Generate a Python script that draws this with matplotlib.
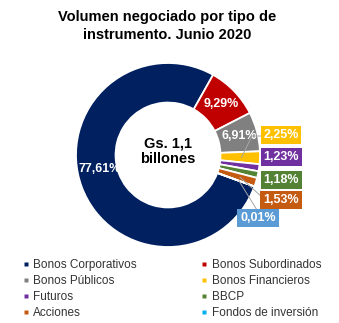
import numpy as np
import matplotlib
matplotlib.use("Agg")
import matplotlib.pyplot as plt
from matplotlib.lines import Line2D

plt.rcParams['font.family'] = ['Liberation Sans', 'DejaVu Sans']

categories = ["Bonos Corporativos", "Bonos Subordinados", "Bonos Públicos",
              "Bonos Financieros", "Futuros", "BBCP", "Acciones", "Fondos de inversión"]
values = [77.61, 9.29, 6.91, 2.25, 1.23, 1.18, 1.53, 0.01]
value_labels = ["77,61%", "9,29%", "6,91%", "2,25%", "1,23%", "1,18%", "1,53%", "0,01%"]
colors = ["#002060", "#C00000", "#808080", "#FFC000", "#7030A0", "#548235", "#C55A11", "#00B0F0"]
box_colors = ["#002060", "#C00000", "#808080", "#FFC000", "#7030A0", "#548235", "#C55A11", "#5B9BD5"]
title = "Volumen negociado por tipo de\ninstrumento. Junio 2020"
center_text = "Gs. 1,1\nbillones"

W, H = 339, 323
fig = plt.figure(figsize=(W / 100, H / 100), dpi=100)
cx, cy, R = 168, 155, 92
ax = fig.add_axes([(cx - R) / W, (H - cy - R) / H, 2 * R / W, 2 * R / H])

inner = 0.57
wedges, _ = ax.pie(values, colors=colors, startangle=-20, counterclock=False, radius=1,
                   wedgeprops=dict(width=1 - inner, edgecolor='white', linewidth=1.3))
ax.set_xlim(-1, 1)
ax.set_ylim(-1, 1)
ax.set_aspect('equal')
ax.axis('off')

def mid(w):
    return np.deg2rad((w.theta1 + w.theta2) / 2)

def px(x, y):
    return ((x - cx) / R, (cy - y) / R)

# inside labels
rmid = 0.80
for i in (1, 2):
    a = mid(wedges[i])
    ax.text(rmid * np.cos(a), rmid * np.sin(a), value_labels[i], color='white',
            fontsize=9, fontweight='bold', ha='center', va='center')
bx, by = px(100, 169)
ax.text(bx, by, value_labels[0], color='white', fontsize=9, fontweight='bold',
        ha='center', va='center')

# callout labels
callouts = {3: (281, 135), 4: (281, 157), 5: (281, 180), 6: (281, 200), 7: (258, 218)}
for i, (x, y) in callouts.items():
    tx, ty = px(x, y)
    ax.text(tx, ty, value_labels[i], color='white', fontsize=9, fontweight='bold',
            ha='center', va='center', zorder=5, clip_on=False,
            bbox=dict(boxstyle='square,pad=0.22', facecolor=box_colors[i], edgecolor='none'))

# leader lines
lc = '#A6A6A6'
a = mid(wedges[3])
p0 = (0.80 * np.cos(a), 0.80 * np.sin(a))
p1 = px(252, 136)
p2 = px(262, 136)
ax.plot([p0[0], p1[0], p2[0]], [p0[1], p1[1], p2[1]], color=lc, lw=0.7, zorder=4, clip_on=False)
for i, end in ((6, (262, 197)), (7, (257, 210))):
    a = mid(wedges[i])
    s = (0.82 * np.cos(a), 0.82 * np.sin(a))
    e = px(*end)
    ax.plot([s[0], e[0]], [s[1], e[1]], color=lc, lw=0.7, zorder=4, clip_on=False)

# center text
ax.text(0, 0.04, center_text, ha='center', va='center', fontsize=10.5, fontweight='bold',
        color='black', linespacing=1.15)

# title
fig.text(167 / W, 1 - 26 / H, title, ha='center', va='center', fontsize=10.5,
         fontweight='bold', color='black', linespacing=1.3)

# legend (row-wise order in 2 columns)
order = [0, 2, 4, 6, 1, 3, 5, 7]
handles = [Line2D([], [], marker='s', linestyle='none', markersize=3.5,
                  markerfacecolor=colors[i], markeredgecolor='none') for i in order]
labels = [categories[i] for i in order]
fig.legend(handles, labels, ncol=2, loc='upper left', bbox_to_anchor=(22 / W, 1 - 259 / H),
           frameon=False, fontsize=8.5, labelcolor='#333333', handlelength=0.6,
           handletextpad=0.35, labelspacing=0.34, columnspacing=5.4, borderaxespad=0,
           borderpad=0)

fig.savefig("out.png", dpi=100, facecolor='white')
